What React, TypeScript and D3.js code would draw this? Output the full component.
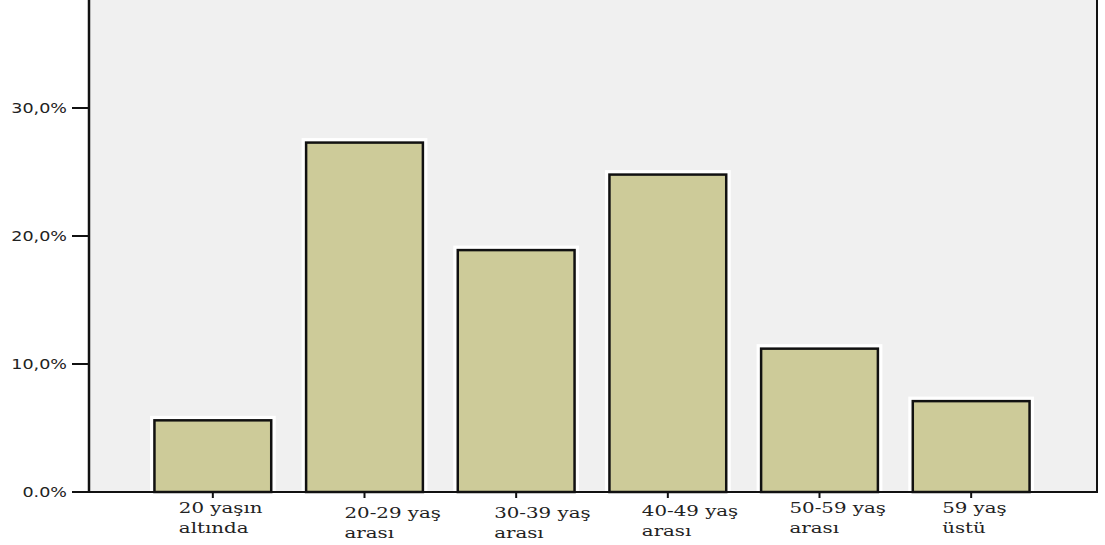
import React from "react";
import * as d3 from "d3";

const categories: string[][] = [
  ["20 yaşın", "altında"],
  ["20-29 yaş", "arası"],
  ["30-39 yaş", "arası"],
  ["40-49 yaş", "arası"],
  ["50-59 yaş", "arası"],
  ["59 yaş", "üstü"],
];
const values: number[] = [5.6, 27.3, 18.9, 24.8, 11.2, 7.1];
const yTicks: number[] = [0, 10, 20, 30];
const yTickLabels: string[] = ["0.0%", "10,0%", "20,0%", "30,0%"];

// layout-only tweaks for the label placement
const labelDx: number[] = [-34, -20, -22, -26, -30, -29];
const labelBase: number[] = [513, 518, 518, 516, 513, 513];

const W = 1105;
const H = 545;
const left = 89;
const right = 1097;
const bottom = 492;

export default function App() {
  const x = d3
    .scaleBand<number>()
    .domain(d3.range(categories.length))
    .range([137, 1047])
    .paddingInner(0.23)
    .paddingOuter(0.115);
  const y = d3.scaleLinear().domain([0, 38.44]).range([bottom, 0]);

  return (
    <svg
      width={W}
      height={H}
      style={{ position: "absolute", left: 0, top: 0, background: "#fff" }}
    >
      <rect x={left} y={0} width={right - left} height={bottom} fill="#f0f0f0" />
      {values.map((v, i) => (
        <rect
          key={"h" + i}
          x={x(i)!}
          y={y(v)}
          width={x.bandwidth()}
          height={bottom - y(v)}
          fill="none"
          stroke="#ffffff"
          strokeWidth={9}
        />
      ))}
      {values.map((v, i) => (
        <rect
          key={"b" + i}
          x={x(i)!}
          y={y(v)}
          width={x.bandwidth()}
          height={bottom - y(v)}
          fill="#cdcb99"
          stroke="#111"
          strokeWidth={2.5}
        />
      ))}
      {/* axes */}
      <line x1={left} x2={left} y1={0} y2={bottom + 1} stroke="#111" strokeWidth={2.5} />
      <line x1={right} x2={right} y1={0} y2={bottom + 1} stroke="#111" strokeWidth={2} />
      <line x1={left - 1} x2={right + 1} y1={bottom} y2={bottom} stroke="#111" strokeWidth={2} />
      {yTicks.map((t, i) => (
        <g key={"yt" + i}>
          <line x1={72} x2={left} y1={y(t)} y2={y(t)} stroke="#111" strokeWidth={2} />
          <g transform={`translate(67,${y(t) + 5}) scale(1.3,1)`}>
            <text
              textAnchor="end"
              fontFamily="DejaVu Sans"
              fontSize={13.5}
              fill="#222"
            >
              {yTickLabels[i]}
            </text>
          </g>
        </g>
      ))}
      {categories.map((c, i) => {
        const cx = x(i)! + x.bandwidth() / 2;
        return (
          <g key={"xl" + i}>
            <line x1={cx} x2={cx} y1={bottom} y2={bottom + 6} stroke="#111" strokeWidth={2} />
            <g transform={`translate(${cx + labelDx[i]},${labelBase[i]}) scale(1.32,1)`}>
              {c.map((line, j) => (
                <text
                  key={j}
                  x={0}
                  y={j * 20}
                  fontFamily="DejaVu Serif"
                  fontSize={15}
                  fill="#222"
                >
                  {line}
                </text>
              ))}
            </g>
          </g>
        );
      })}
    </svg>
  );
}
